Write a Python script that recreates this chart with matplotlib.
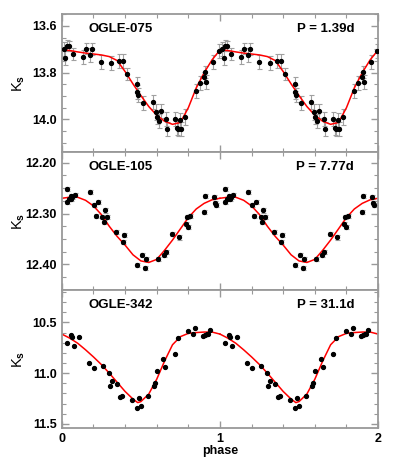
import matplotlib
matplotlib.use("Agg")
import matplotlib.pyplot as plt
import numpy as np
from matplotlib.ticker import MultipleLocator

plt.rcParams["font.family"] = ["Liberation Sans", "DejaVu Sans"]
plt.rcParams["font.weight"] = "bold"
plt.rcParams["mathtext.fontset"] = "custom"
plt.rcParams["mathtext.rm"] = "Liberation Sans:bold"
plt.rcParams["mathtext.it"] = "Liberation Sans:bold"

# OGLE-075, P = 1.39d  (one cycle of phase, drawn twice)
ph_075 = [0.015, 0.023, 0.034, 0.044, 0.072, 0.135, 0.150, 0.180, 0.190, 0.250,
          0.314, 0.361, 0.384, 0.413, 0.473, 0.477, 0.483, 0.515, 0.578, 0.595,
          0.603, 0.614, 0.627, 0.658, 0.667, 0.715, 0.726, 0.736, 0.751, 0.747,
          0.778, 0.846, 0.873, 0.899, 0.905, 0.910, 0.954, 0.996]
mag_075 = [13.698, 13.738, 13.684, 13.686, 13.720, 13.731, 13.697, 13.724, 13.698, 13.756,
           13.760, 13.751, 13.748, 13.807, 13.850, 13.881, 13.897, 13.931, 13.924, 13.967,
           13.991, 14.005, 13.964, 13.997, 14.041, 14.000, 14.037, 14.041, 14.041, 14.003,
           13.991, 13.880, 13.843, 13.820, 13.796, 13.839, 13.756, 13.706]
err_075 = [0.030, 0.030, 0.025, 0.020, 0.025, 0.030, 0.025, 0.030, 0.025, 0.030,
           0.030, 0.030, 0.030, 0.025, 0.030, 0.030, 0.030, 0.030, 0.030, 0.035,
           0.030, 0.030, 0.030, 0.030, 0.030, 0.030, 0.030, 0.030, 0.030, 0.030,
           0.035, 0.030, 0.030, 0.025, 0.025, 0.030, 0.030, 0.030]
fit_ph_075 = [0.00, 0.05, 0.10, 0.15, 0.20, 0.25, 0.30, 0.35, 0.40, 0.45, 0.50,
              0.55, 0.60, 0.65, 0.70, 0.75, 0.80, 0.85, 0.90, 0.95, 1.00]
fit_075 = [13.703, 13.705, 13.711, 13.716, 13.720, 13.724, 13.731, 13.748, 13.795, 13.848, 13.898,
           13.945, 13.982, 14.008, 14.021, 14.013, 13.950, 13.865, 13.800, 13.745, 13.703]

# OGLE-105, P = 7.77d
ph_105 = [0.030, 0.034, 0.044, 0.055, 0.061, 0.067, 0.082, 0.177, 0.205, 0.215,
          0.230, 0.257, 0.266, 0.272, 0.283, 0.342, 0.384, 0.395, 0.473, 0.508,
          0.525, 0.532, 0.606, 0.648, 0.658, 0.694, 0.741, 0.783, 0.789, 0.800,
          0.810, 0.899, 0.905, 0.962, 0.968, 0.975]
mag_105 = [12.252, 12.277, 12.271, 12.266, 12.271, 12.268, 12.264, 12.258, 12.283, 12.305,
           12.277, 12.307, 12.317, 12.294, 12.307, 12.336, 12.356, 12.342, 12.401, 12.382,
           12.406, 12.390, 12.390, 12.382, 12.375, 12.341, 12.347, 12.320, 12.307, 12.327,
           12.304, 12.297, 12.265, 12.268, 12.279, 12.283]
err_105 = [0.004] * len(ph_105)
fit_ph_105 = [0.00, 0.05, 0.10, 0.15, 0.20, 0.25, 0.30, 0.35, 0.40, 0.45, 0.50,
              0.55, 0.60, 0.65, 0.70, 0.75, 0.80, 0.85, 0.90, 0.95, 1.00]
fit_105 = [12.270, 12.268, 12.268, 12.274, 12.285, 12.302, 12.325, 12.345, 12.362, 12.381, 12.393,
           12.396, 12.390, 12.372, 12.352, 12.330, 12.308, 12.291, 12.280, 12.273, 12.270]

# OGLE-342, P = 31.1d
ph_342 = [0.030, 0.057, 0.063, 0.076, 0.108, 0.171, 0.205, 0.262, 0.300, 0.304,
          0.319, 0.350, 0.367, 0.378, 0.445, 0.477, 0.490, 0.500, 0.542, 0.584,
          0.588, 0.603, 0.641, 0.652, 0.715, 0.736, 0.800, 0.831, 0.842, 0.894,
          0.905, 0.916, 0.926, 0.937]
mag_342 = [10.706, 10.625, 10.641, 10.729, 10.643, 10.896, 10.945, 10.925, 11.000, 11.131,
           11.075, 11.102, 11.239, 11.220, 11.262, 11.343, 11.245, 11.324, 11.220, 11.131,
           11.098, 10.974, 10.863, 10.935, 10.814, 10.657, 10.582, 10.612, 10.553, 10.634,
           10.625, 10.615, 10.610, 10.578]
fit_ph_342 = [0.00, 0.05, 0.10, 0.15, 0.20, 0.25, 0.30, 0.35, 0.40, 0.45, 0.48, 0.50,
              0.55, 0.60, 0.65, 0.70, 0.75, 0.80, 0.85, 0.90, 0.95, 1.00]
fit_342 = [10.615, 10.655, 10.705, 10.770, 10.840, 10.915, 11.000, 11.090, 11.180, 11.255, 11.290, 11.280,
           11.205, 11.060, 10.880, 10.720, 10.640, 10.608, 10.600, 10.595, 10.595, 10.615]

panels = [
    ("OGLE-075", "P = 1.39d", ph_075, mag_075, err_075, fit_ph_075, fit_075,
     (14.14, 13.549), 0.2, 0.05, "%.1f"),
    ("OGLE-105", "P = 7.77d", ph_105, mag_105, err_105, fit_ph_105, fit_105,
     (12.45, 12.179), 0.1, 0.025, "%.2f"),
    ("OGLE-342", "P = 31.1d", ph_342, mag_342, None, fit_ph_342, fit_342,
     (11.54, 10.18), 0.5, 0.1, "%.1f"),
]

fig = plt.figure(figsize=(4.15, 4.61), dpi=100)
left, width = 0.149, 0.762
bottoms = [0.670, 0.371, 0.0716]
height = 0.2995
frame = "#999999"

for i, (name, per, ph, mag, err, fph, fmag, ylim, major, minor, fmt) in enumerate(panels):
    ax = fig.add_axes([left, bottoms[i], width, height])
    ph = np.array(ph)
    mag = np.array(mag)
    fph = np.array(fph)
    fmag = np.array(fmag)
    for shift in (0, 1):
        if err is not None:
            ax.errorbar(ph + shift, mag, yerr=err, fmt="none", ecolor="#a0a0a0",
                        elinewidth=0.8, capsize=1.8, capthick=0.8, zorder=1)
        ax.plot(ph + shift, mag, "o", color="black", markersize=2.8, zorder=3)
        ax.plot(fph + shift, fmag, color="red", linewidth=1.1, zorder=2)

    ax.set_xlim(0, 2)
    ax.set_ylim(*ylim)
    ax.xaxis.set_major_locator(MultipleLocator(1))
    ax.xaxis.set_minor_locator(MultipleLocator(0.2))
    ax.yaxis.set_major_locator(MultipleLocator(major))
    ax.yaxis.set_minor_locator(MultipleLocator(minor))
    ax.yaxis.set_major_formatter(plt.FormatStrFormatter(fmt))
    ax.tick_params(which="both", direction="in", top=True, right=True,
                   color=frame, labelsize=9)
    ax.tick_params(which="major", length=5, width=1)
    ax.tick_params(which="minor", length=3, width=0.8)
    for sp in ax.spines.values():
        sp.set_color(frame)
        sp.set_linewidth(1.3)
    if i < 2:
        ax.tick_params(labelbottom=False)
    else:
        ax.set_xlabel("phase", fontsize=9, fontweight="bold", labelpad=0)
    ax.set_ylabel(r"K$_{\rm s}$", fontsize=10.5)
    ax.yaxis.set_label_coords(-0.11, 0.5)
    ax.text(0.085, 0.89, name, transform=ax.transAxes, fontsize=9.5,
            fontweight="bold", va="center", ha="left")
    ax.text(0.924, 0.89, per, transform=ax.transAxes, fontsize=9.5,
            fontweight="bold", va="center", ha="right")

fig.savefig("out.png", dpi=100)
